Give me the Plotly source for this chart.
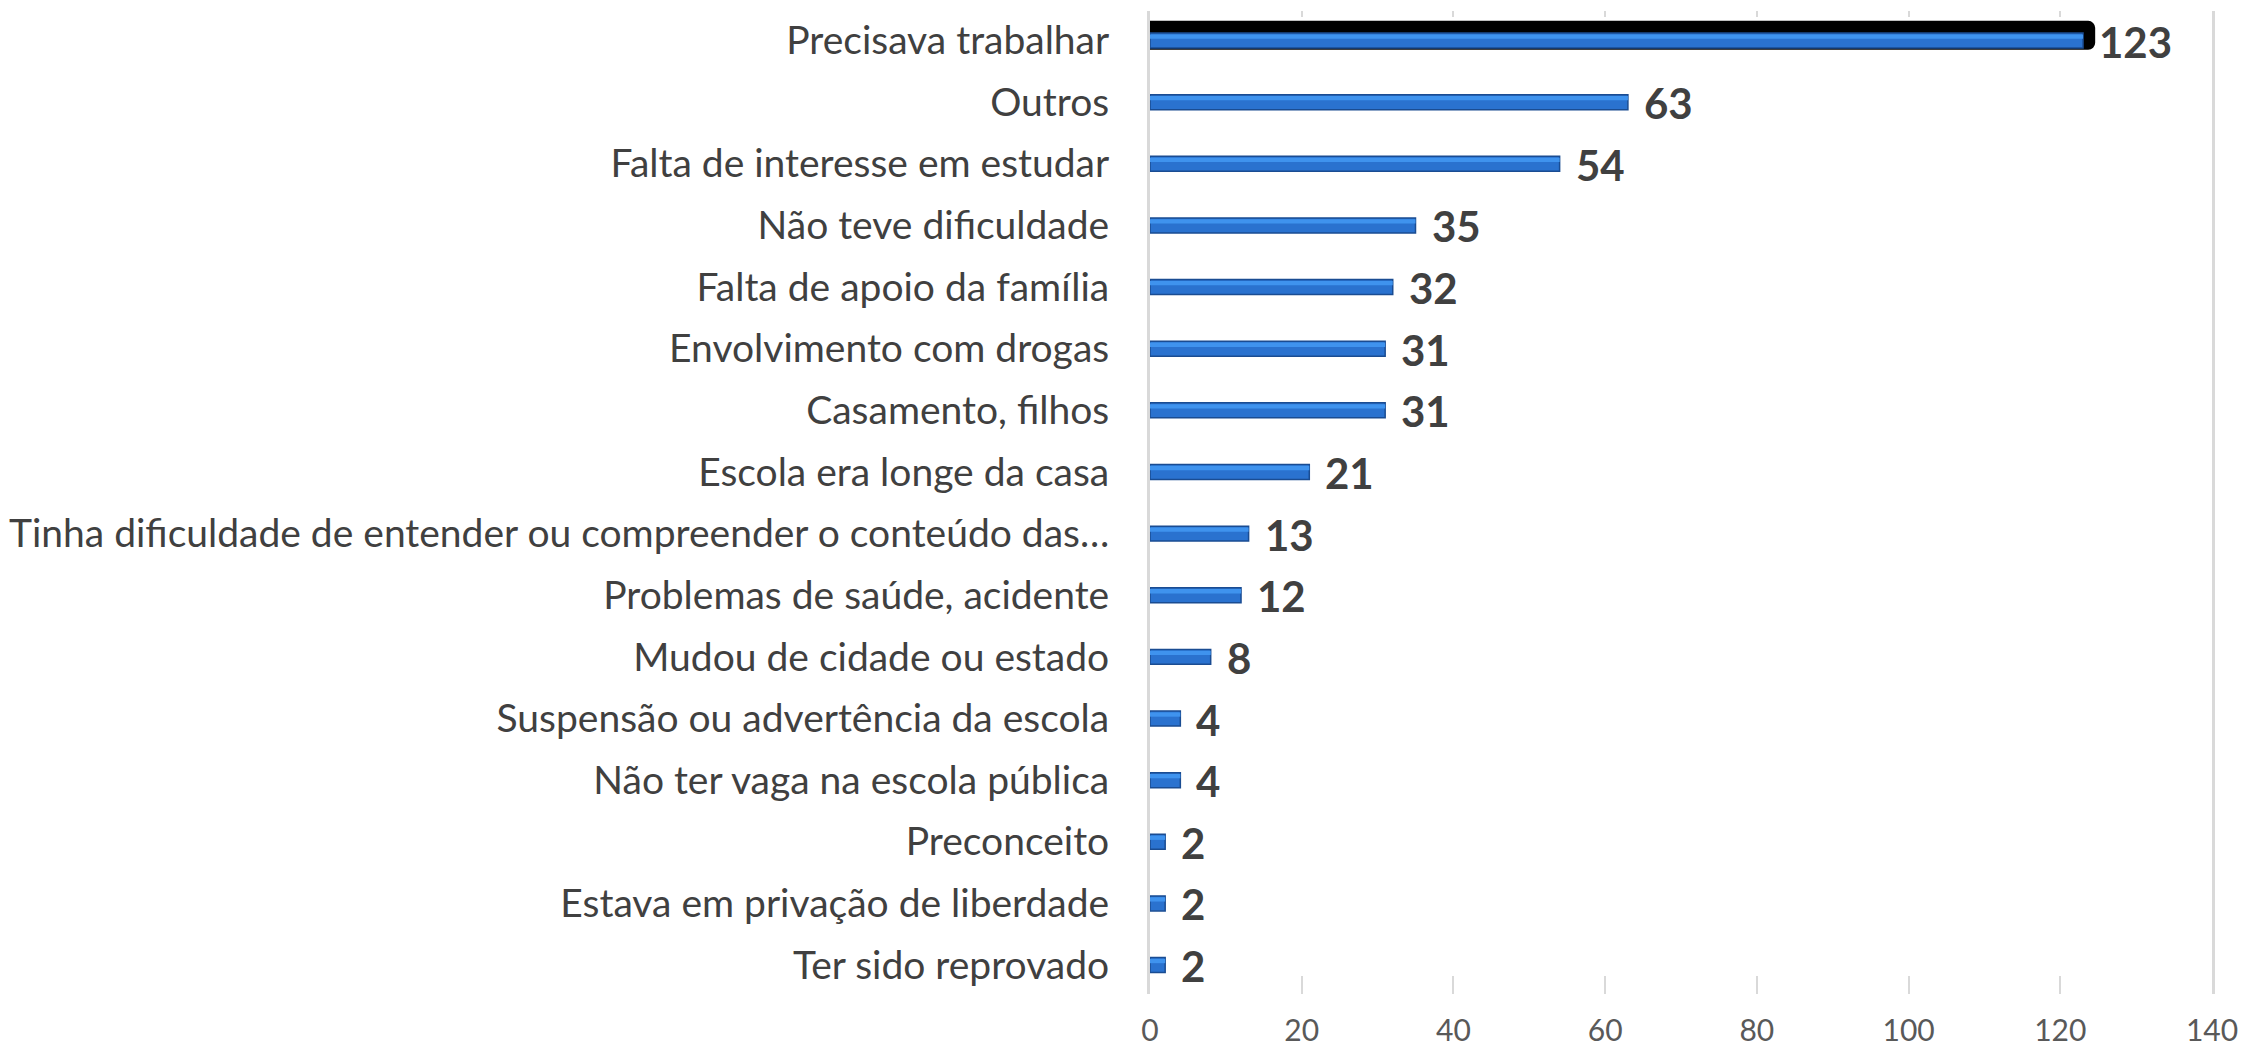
import plotly.graph_objects as go

categories = [
    "Precisava trabalhar",
    "Outros",
    "Falta de interesse em estudar",
    "Não teve dificuldade",
    "Falta de apoio da família",
    "Envolvimento com drogas",
    "Casamento, filhos",
    "Escola era longe da casa",
    "Tinha dificuldade de entender ou compreender o conteúdo das…",
    "Problemas de saúde, acidente",
    "Mudou de cidade ou estado",
    "Suspensão ou advertência da escola",
    "Não ter vaga na escola pública",
    "Preconceito",
    "Estava em privação de liberdade",
    "Ter sido reprovado",
]
values = [123, 63, 54, 35, 32, 31, 31, 21, 13, 12, 8, 4, 4, 2, 2, 2]
x_ticks = [0, 20, 40, 60, 80, 100, 120, 140]

# highlighted (selected) first bar outline in the original
highlight_cat = [categories[0]]
highlight_val = [values[0] + 1.6]

fig = go.Figure()
fig.add_trace(go.Bar(
    y=highlight_cat, x=highlight_val, orientation="h",
    marker=dict(color="#000000", line=dict(width=0), cornerradius=7),
    width=0.47, offset=-0.32, hoverinfo="skip", showlegend=False,
))
fig.add_trace(go.Bar(
    y=categories, x=values, orientation="h",
    marker=dict(color="#2A72CF", line=dict(color="#1A4C92", width=1.5)),
    width=0.243, offset=-0.1215, showlegend=False,
))
# lighter top band (3D bevel look)
fig.add_trace(go.Bar(
    y=categories, x=values, orientation="h",
    marker=dict(color="#3F93EE", line=dict(width=0)),
    width=0.07, offset=-0.10, hoverinfo="skip", showlegend=False,
))

annotations = []
for c, v in zip(categories, values):
    annotations.append(dict(
        x=v, y=c, xref="x", yref="y", text=f"<b>{v}</b>", showarrow=False,
        xanchor="left", yanchor="middle", xshift=14, yshift=-1,
        font=dict(family="Lato", size=42, color="#404040"),
    ))

fig.update_layout(
    width=2243, height=1049,
    margin=dict(l=1150, r=31, t=11, b=55, autoexpand=False),
    paper_bgcolor="white", plot_bgcolor="white",
    barmode="overlay",
    annotations=annotations,
    xaxis=dict(
        range=[0, 140], tickvals=x_ticks, showgrid=False, zeroline=False,
        ticks="inside", ticklen=18, tickwidth=2, tickcolor="#D9D9D9",
        tickfont=dict(family="Lato", size=30, color="#595959"),
        ticklabelstandoff=16, showline=False, automargin=False,
    ),
    xaxis2=dict(
        range=[0, 140], tickvals=x_ticks, overlaying="x", side="top",
        showgrid=False, zeroline=False, ticks="inside", ticklen=6, tickwidth=2,
        tickcolor="#D9D9D9", showticklabels=False, showline=False, automargin=False,
    ),
    yaxis=dict(
        range=[15.47, -0.48], showgrid=False, zeroline=False,
        showline=True, linecolor="#D9D9D9", linewidth=3, mirror=True,
        ticks="", ticklabelstandoff=30, automargin=False,
        tickfont=dict(family="Lato", size=39, color="#404040"),
    ),
)
# invisible trace so the top tick marks (xaxis2) are drawn
fig.add_trace(go.Scatter(x=[0, 140], y=[categories[0], categories[0]], xaxis="x2",
                         mode="markers", marker=dict(opacity=0), hoverinfo="skip",
                         showlegend=False))

fig.write_html("out.html", config={"displayModeBar": False},
               post_script="document.body.style.margin='0';document.body.style.overflow='hidden';")
